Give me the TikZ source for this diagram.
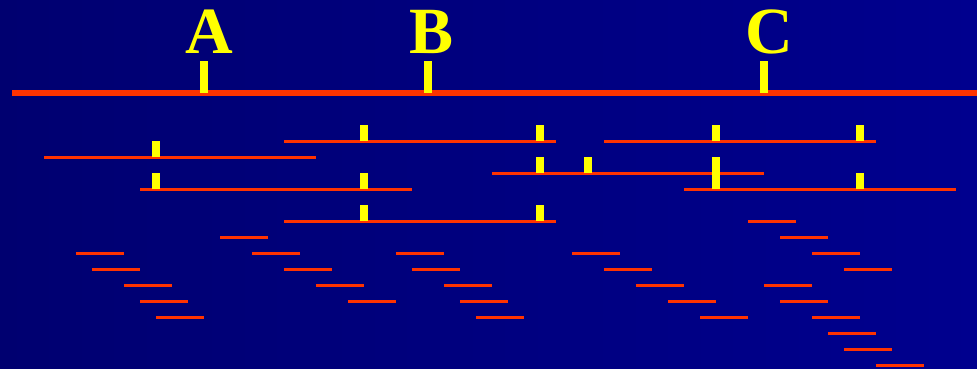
\documentclass[tikz,border=0pt]{standalone}
\usepackage{fontspec}
\setmainfont{Liberation Serif}
\definecolor{bgl}{RGB}{0,0,112}
\definecolor{bgr}{RGB}{0,0,142}
\definecolor{seg}{RGB}{255,51,0}
\definecolor{tick}{RGB}{255,255,0}
\tikzset{
  segline/.style={draw=seg,line width=3pt},
  mainline/.style={draw=seg,line width=6pt},
  tickbox/.style={fill=tick,draw=none},
  lbl/.style={text=tick,font=\fontsize{66}{66}\selectfont\bfseries,anchor=base,inner sep=0pt}
}
\begin{document}
\begin{tikzpicture}[x=1pt,y=-1pt]
\shade[left color=bgl,right color=bgr] (0,0) rectangle (977,369);
\useasboundingbox (0,0) rectangle (977,369);
% main line
\coordinate (ml) at (12,93);
\coordinate (mr) at (977,93);
\draw[mainline] (ml) -- (mr);
\fill[tickbox] (200,61) rectangle (208,93);
\fill[tickbox] (424,61) rectangle (432,93);
\fill[tickbox] (760,61) rectangle (768,93);
\node[lbl] (A) at (209,53) {A};
\node[lbl] (B) at (432,53) {B};
\node[lbl] (C) at (769,53) {C};
% long reads
\foreach \a/\b/\y in {284/556/141, 604/876/141, 44/316/157, 140/412/189, 492/764/173, 684/956/189, 284/556/221}
  \draw[segline] (\a,\y) -- (\b,\y);
% ticks on reads (x left, y bottom)
\foreach \x/\y in {360/141, 536/141, 712/141, 856/141, 152/157, 152/189, 360/189, 536/173, 584/173, 712/173, 712/189, 856/189, 360/221, 536/221}
  \fill[tickbox] (\x,\y-16) rectangle (\x+8,\y);
% short reads
\foreach \a/\y in {220/237, 748/221, 780/237,
  76/253, 252/253, 396/253, 572/253, 812/253,
  92/269, 284/269, 412/269, 604/269, 844/269,
  124/285, 316/285, 444/285, 636/285, 764/285,
  140/301, 348/301, 460/301, 668/301, 780/301,
  156/317, 476/317, 700/317, 812/317,
  828/333, 844/349, 876/365}
  \draw[segline] (\a,\y) -- (\a+48,\y);
\end{tikzpicture}
\end{document}
